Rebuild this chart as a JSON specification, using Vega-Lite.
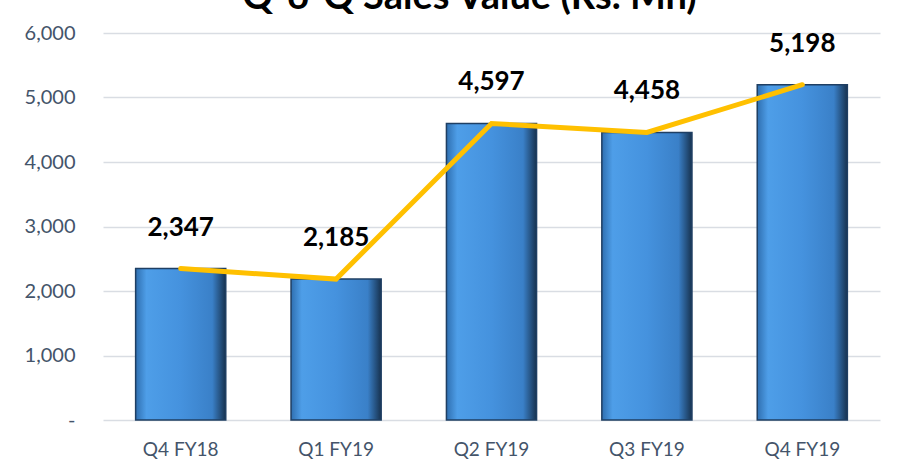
{
  "$schema": "https://vega.github.io/schema/vega-lite/v6.json",
  "width": 777,
  "height": 387,
  "autosize": {"type": "none"},
  "padding": {"left": 103, "top": 33, "right": 34, "bottom": 49},
  "background": "white",
  "title": {
    "text": "Q-o-Q Sales Value (Rs. Mn)",
    "font": "Lato",
    "fontSize": 38,
    "fontWeight": "bold",
    "color": "black",
    "anchor": "middle",
    "dx": -22,
    "dy": -2
  },
  "config": {
    "view": {"stroke": null},
    "axis": {"labelFont": "Lato", "labelColor": "#44546a", "labelFontSize": 19}
  },
  "data": {
    "values": [
      {"quarter": "Q4 FY18", "sales": 2347},
      {"quarter": "Q1 FY19", "sales": 2185},
      {"quarter": "Q2 FY19", "sales": 4597},
      {"quarter": "Q3 FY19", "sales": 4458},
      {"quarter": "Q4 FY19", "sales": 5198}
    ]
  },
  "encoding": {
    "x": {
      "field": "quarter",
      "type": "nominal",
      "sort": null,
      "scale": {"paddingInner": 0.42, "paddingOuter": 0.21},
      "axis": {"title": null, "labelAngle": 0, "domain": false, "ticks": false, "labelPadding": 20, "grid": false}
    },
    "y": {
      "field": "sales",
      "type": "quantitative",
      "scale": {"domain": [0, 6000]},
      "axis": {
        "title": null,
        "values": [0, 1000, 2000, 3000, 4000, 5000, 6000],
        "labelExpr": "datum.value === 0 ? '-' : format(datum.value, ',')",
        "labelOverlap": false,
        "labelFontSize": 20,
        "domain": false,
        "ticks": false,
        "labelPadding": 28,
        "grid": true,
        "gridColor": "#d9dde3",
        "gridWidth": 1.5
      }
    }
  },
  "layer": [
    {
      "mark": {
        "type": "bar",
        "stroke": "#1f3f63",
        "strokeWidth": 1.5,
        "color": {
          "gradient": "linear",
          "x1": 0, "y1": 0, "x2": 1, "y2": 0,
          "stops": [
            {"offset": 0, "color": "#2f6fb0"},
            {"offset": 0.12, "color": "#4e9ee8"},
            {"offset": 0.5, "color": "#4592de"},
            {"offset": 0.85, "color": "#3a80c8"},
            {"offset": 1, "color": "#17324f"}
          ]
        }
      }
    },
    {
      "mark": {"type": "line", "color": "#ffc000", "strokeWidth": 5, "strokeCap": "round", "strokeJoin": "miter"}
    },
    {
      "mark": {"type": "text", "font": "Lato", "fontSize": 26, "fontWeight": "bold", "color": "black", "baseline": "alphabetic", "dy": -33},
      "encoding": {"text": {"field": "sales", "type": "quantitative", "format": ","}}
    }
  ]
}
